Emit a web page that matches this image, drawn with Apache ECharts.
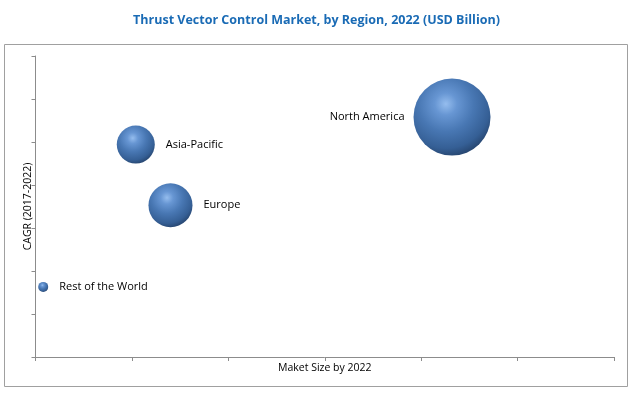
<!DOCTYPE html>
<html><head><meta charset="utf-8">
<script src="https://cdn.jsdelivr.net/npm/echarts@6/dist/echarts.min.js"></script>
<style>html,body{margin:0;padding:0;background:#fff;}#c{width:633px;height:394px;}</style>
</head><body><div id="c"></div>
<script>
const regions = ['North America', 'Asia-Pacific', 'Europe', 'Rest of the World'];
const marketSize = [4.32, 1.04, 1.40, 0.08];
const cagr = [5.58, 4.94, 3.53, 1.63];
const bubbleSize = [77, 38, 44, 10];
const labelSide = ['left', 'right', 'right', 'right'];

const sphere = {
  type: 'radial', x: 0.42, y: 0.33, r: 0.72,
  colorStops: [
    { offset: 0, color: '#95bdee' },
    { offset: 0.2, color: '#6796d3' },
    { offset: 0.5, color: '#4877b3' },
    { offset: 0.8, color: '#355f95' },
    { offset: 1, color: '#233f66' }
  ]
};

const data = regions.map((r, i) => ({
  name: r,
  value: [marketSize[i], cagr[i], bubbleSize[i]],
  label: { position: labelSide[i], distance: labelSide[i] === 'left' ? 9 : 11 }
}));

const chart = echarts.init(document.getElementById('c'));
const font = 'Open Sans, Noto Sans, sans-serif';
chart.setOption({
  animation: false,
  title: {
    text: 'Thrust Vector Control Market, by Region, 2022 (USD Billion)',
    left: 'center', top: 9,
    textStyle: { color: '#1a6bb5', fontSize: 12.5, fontWeight: 'bold', fontFamily: font }
  },
  graphic: [{
    type: 'rect', shape: { x: 4.5, y: 44.5, width: 623, height: 342 },
    style: { fill: 'none', stroke: '#a0a0a0', lineWidth: 1 }, silent: true
  }],
  grid: { left: 35.5, right: 19, top: 56, bottom: 37 },
  xAxis: {
    type: 'value', min: 0, max: 6, interval: 1,
    name: 'Maket Size by 2022', nameLocation: 'middle', nameGap: 6,
    nameTextStyle: { color: '#000', fontSize: 10.5, fontFamily: font },
    axisLine: { show: true, lineStyle: { color: '#8c8c8c' } },
    axisTick: { show: true, length: 4, lineStyle: { color: '#8c8c8c' } },
    axisLabel: { show: false }, splitLine: { show: false }
  },
  yAxis: {
    type: 'value', min: 0, max: 7, interval: 1,
    name: 'CAGR (2017-2022)', nameLocation: 'middle', nameGap: 2, nameRotate: 90,
    nameTextStyle: { color: '#000', fontSize: 10.5, fontFamily: font },
    axisLine: { show: true, lineStyle: { color: '#8c8c8c' } },
    axisTick: { show: true, length: 4, lineStyle: { color: '#8c8c8c' } },
    axisLabel: { show: false }, splitLine: { show: false }
  },
  series: [{
    type: 'scatter',
    data: data,
    symbolSize: v => v[2],
    itemStyle: { color: sphere, opacity: 1 },
    label: {
      show: true, formatter: '{b}', color: '#000', fontSize: 11, fontFamily: font
    }
  }]
});
</script></body></html>
